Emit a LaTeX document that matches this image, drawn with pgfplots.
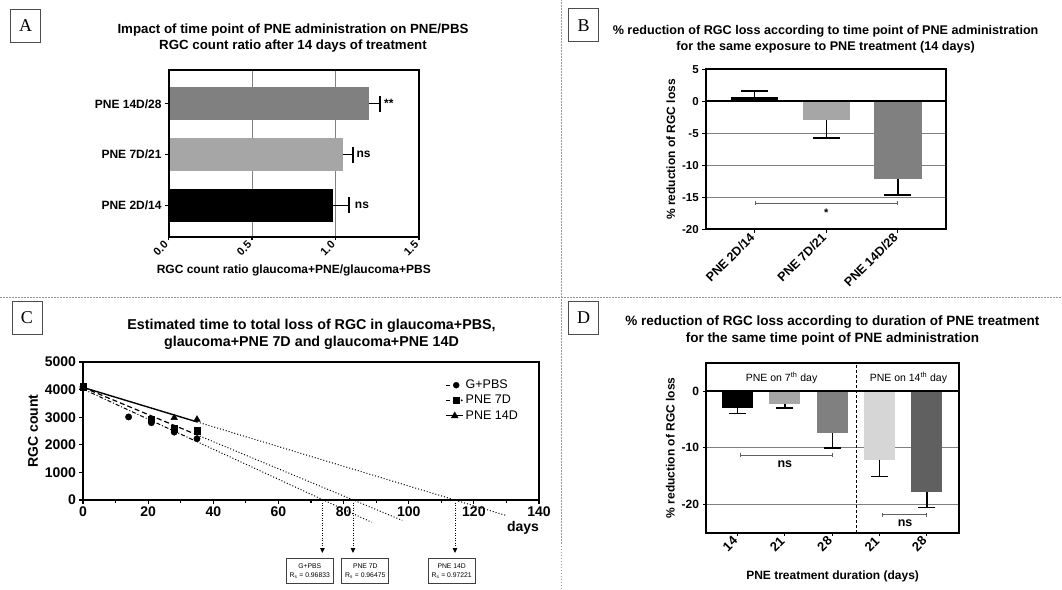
\documentclass[border=0pt]{standalone}
\usepackage{pgfplots}
\pgfplotsset{compat=1.18}
\usepackage{fontspec}
\setmainfont{Liberation Sans}
\newfontfamily\panelfont{Liberation Serif}
\usetikzlibrary{arrows.meta}
\definecolor{g50}{RGB}{128,128,128}
\definecolor{g65}{RGB}{166,166,166}
\definecolor{g85}{RGB}{214,214,214}
\definecolor{g38}{RGB}{96,96,96}
\definecolor{sepc}{RGB}{150,150,150}
\newcommand{\fs}[2]{\fontsize{#1}{#2}\selectfont}
\pgfplotsset{
  panel/.style={scale only axis, anchor=south west, clip=false, axis on top,
    axis line style={black, line width=2pt},
    major tick style={black, line width=1.2pt}, tick align=outside, major tick length=3.5pt,
    minor tick style={black, line width=1.2pt}, minor tick length=2.5pt,
    tick pos=left,
    /pgf/number format/assume math mode=true,
    tick label style={font=\fs{11.5}{13}\bfseries},
    label style={font=\fs{12}{14}\bfseries}},
  ebx/.style={/pgfplots/error bars/x dir=plus, /pgfplots/error bars/x explicit,
    /pgfplots/error bars/error mark=|,
    /pgfplots/error bars/error bar style={black,line width=1.3pt},
    /pgfplots/error bars/error mark options={black,line width=1.3pt,mark size=#1}},
  ebup/.style={/pgfplots/error bars/y dir=plus, /pgfplots/error bars/y explicit,
    /pgfplots/error bars/error mark=|,
    /pgfplots/error bars/error bar style={black,line width=1.3pt},
    /pgfplots/error bars/error mark options={black,line width=1.3pt,mark size=#1}},
  ebdn/.style={/pgfplots/error bars/y dir=minus, /pgfplots/error bars/y explicit,
    /pgfplots/error bars/error mark=|,
    /pgfplots/error bars/error bar style={black,line width=1.3pt},
    /pgfplots/error bars/error mark options={black,line width=1.3pt,mark size=#1}},
}
\begin{document}
\begin{tikzpicture}
\path[use as bounding box] (0pt,0pt) rectangle (1062pt,589pt);
% separators
\draw[sepc, line width=0.6pt, dash pattern=on 1.5pt off 1.5pt] (0pt,292pt) -- (1062pt,292pt);
\draw[sepc, line width=0.6pt, dash pattern=on 1.5pt off 1.5pt] (560.8pt,0pt) -- (560.8pt,589pt);
% panel letters
\foreach \l/\x/\y in {A/10.2/546.3, B/568.2/546.7, C/11.5/254, D/568.3/254}
  \node[draw=black!70, line width=0.8pt, minimum width=30pt, minimum height=33pt, anchor=south west, inner sep=0pt, font=\panelfont\fs{18}{18}] at (\x pt,\y pt) {\l};
% titles
\node[align=center, font=\fs{13.3}{16.5}\bfseries] at (293pt,551pt) {Impact of time point of PNE administration on PNE/PBS\\RGC count ratio after 14 days of treatment};
\node[align=center, font=\fs{12.6}{16}\bfseries] at (825.6pt,550pt) {\% reduction of RGC loss according to time point of PNE administration\\for the same exposure to PNE treatment (14 days)};
\node[align=center, font=\fs{14.3}{16.5}\bfseries] at (311.5pt,254.7pt) {Estimated time to total loss of RGC in glaucoma+PBS,\\glaucoma+PNE 7D and glaucoma+PNE 14D};
\node[align=center, font=\fs{13.5}{16.5}\bfseries] at (832.4pt,258.5pt) {\% reduction of RGC loss according to duration of PNE treatment\\for the same time point of PNE administration};

% ---------------- Panel A ----------------
\begin{axis}[panel, at={(168.6pt,352pt)}, width=250.4pt, height=166.6pt,
  xbar, bar width=33pt, bar shift=0pt,
  xmin=0, xmax=1.5, xtick={0,0.5,1,1.5}, xticklabels={0.0,0.5,1.0,1.5},
  xticklabel style={rotate=45, anchor=east, font=\fs{11}{12}\bfseries},
  ymin=-0.627, ymax=2.659, ytick={0,1,2}, yticklabels={PNE 2D/14,PNE 7D/21,PNE 14D/28},
  yticklabel style={font=\fs{12}{13}\bfseries},
  xlabel={RGC count ratio glaucoma+PNE/glaucoma+PBS}]
\draw[g50, line width=1pt] (axis cs:0.5,-0.627) -- (axis cs:0.5,2.659);
\draw[g50, line width=1pt] (axis cs:1,-0.627) -- (axis cs:1,2.659);
\addplot[fill=black, draw=none, ebx=8pt] coordinates {(0.986,0) +- (0.094,0)};
\addplot[fill=g65, draw=none, ebx=8pt] coordinates {(1.043,1) +- (0.062,0)};
\addplot[fill=g50, draw=none, ebx=8pt] coordinates {(1.20,2) +- (0.066,0)};
\node[anchor=west, inner sep=0pt, font=\fs{12}{13}\bfseries] at (axis cs:1.29,2) {**};
\node[anchor=west, inner sep=0pt, font=\fs{12}{13}\bfseries] at (axis cs:1.125,1) {ns};
\node[anchor=west, inner sep=0pt, font=\fs{12}{13}\bfseries] at (axis cs:1.115,0) {ns};
\end{axis}

% ---------------- Panel B ----------------
\begin{axis}[panel, at={(705.7pt,359.5pt)}, width=240.1pt, height=160.3pt,
  ybar, bar width=47.4pt, bar shift=0pt,
  xmin=-0.686, xmax=2.67, xtick={0,1,2}, xticklabels={PNE 2D/14,PNE 7D/21,PNE 14D/28},
  xticklabel style={rotate=45, anchor=east, font=\fs{12.5}{13}\bfseries},
  ymin=-20, ymax=5, ytick={-20,-15,-10,-5,0,5},
  ylabel={\% reduction of RGC loss}]
\draw[g50, line width=1pt] (axis cs:-0.686,-5) -- (axis cs:2.67,-5);
\draw[g50, line width=1pt] (axis cs:-0.686,-10) -- (axis cs:2.67,-10);
\draw[g50, line width=1pt] (axis cs:-0.686,-15) -- (axis cs:2.67,-15);
\addplot[fill=black, draw=none, ebup=13.5pt] coordinates {(0,0.6) +- (0,1.0)};
\addplot[fill=g65, draw=none, ebdn=13.5pt] coordinates {(1,-2.95) +- (0,2.8)};
\addplot[fill=g50, draw=none, ebdn=13.5pt] coordinates {(2,-12.2) +- (0,2.4)};
\draw[black, line width=2pt] (axis cs:-0.686,0) -- (axis cs:2.67,0);
\draw[g38, line width=0.8pt, {Bar[width=4pt]}-{Bar[width=4pt]}] (axis cs:0,-15.9) -- (axis cs:2,-15.9);
\node[font=\fs{11}{12}\bfseries] at (axis cs:1,-17.4) {*};
\end{axis}

% ---------------- Panel C ----------------
\begin{axis}[panel, at={(83pt,89pt)}, width=456pt, height=138pt,
  xmin=0, xmax=140, ymin=0, ymax=5000,
  xtick={0,20,...,140}, minor x tick num=1, ytick={0,1000,...,5000},
  /pgf/number format/1000 sep={},
  tick label style={font=\fs{14}{15}\bfseries},
  ylabel={RGC count}, ylabel style={font=\fs{14}{15}\bfseries},
  legend style={draw=none, fill=none, at={(0.795,0.885)}, anchor=north west,
    font=\fs{12.5}{13}, row sep=1pt, inner sep=0pt, cells={anchor=west}}]
% fit lines
\addplot[black, line width=1pt, dash pattern=on 4pt off 2pt on 1pt off 2pt, forget plot] coordinates {(0,4020) (35,2113)};
\addplot[black, line width=1pt, dash pattern=on 1pt off 2pt, forget plot] coordinates {(35,2113) (88.6,-806)};
\addplot[black, line width=1.2pt, dash pattern=on 5pt off 3pt, forget plot] coordinates {(0,4080) (35,2360)};
\addplot[black, line width=1pt, dash pattern=on 1pt off 2pt, forget plot] coordinates {(35,2360) (98,-738)};
\addplot[black, line width=1.4pt, forget plot] coordinates {(0,4080) (35,2830)};
\addplot[black, line width=1pt, dash pattern=on 1pt off 2pt, forget plot] coordinates {(35,2830) (129.6,-551)};
% data
\addplot[only marks, mark=*, mark size=3.2pt, black,
  legend image code/.code={\draw[black,line width=1pt] (0pt,0pt) -- (4pt,0pt); \fill[black] (10pt,0pt) circle (3pt);}]
  coordinates {(0,4100) (14,3010) (21,2800) (28,2460) (35,2220)};
\addlegendentry{G+PBS}
\addplot[only marks, mark=square*, mark size=3.2pt, black,
  legend image code/.code={\draw[black,line width=1pt] (0pt,0pt) -- (4pt,0pt); \fill[black] (7pt,-3pt) rectangle (13pt,3pt); \fill[black] (15.5pt,0pt) circle (0.7pt);}]
  coordinates {(0,4100) (21,2920) (28,2580) (35,2510)};
\addlegendentry{PNE 7D}
\addplot[only marks, mark=triangle*, mark size=3.8pt, black,
  legend image code/.code={\draw[black,line width=1pt] (0pt,0pt) -- (17pt,0pt); \fill[black] (8.5pt,3.5pt) -- (5pt,-2.5pt) -- (12pt,-2.5pt) -- cycle;}]
  coordinates {(0,4100) (28,2980) (35,2920)};
\addlegendentry{PNE 14D}
% arrows to boxes
\draw[black, line width=0.9pt, dash pattern=on 1pt off 1.5pt, -{Triangle[length=5pt,width=4.5pt]}] (axis cs:73.5,0) -- ++(0pt,-53pt);
\draw[black, line width=0.9pt, dash pattern=on 1pt off 1.5pt, -{Triangle[length=5pt,width=4.5pt]}] (axis cs:82.9,0) -- ++(0pt,-53pt);
\draw[black, line width=0.9pt, dash pattern=on 1pt off 1.5pt, -{Triangle[length=5pt,width=4.5pt]}] (axis cs:114.2,0) -- ++(0pt,-53pt);
\end{axis}
\node[font=\fs{14}{15}\bfseries] at (523pt,61pt) {days};
\foreach \cx/\t/\r in {309.8/G+PBS/0.96833, 365.3/PNE 7D/0.96475, 451.7/PNE 14D/0.97221}
  \node[draw=black!75, line width=0.8pt, minimum width=47pt, minimum height=24.7pt, inner sep=1pt, align=center, font=\fs{6.8}{8.5}] at (\cx pt,18pt) {\t\\R\textsubscript{s} = \r};

% ---------------- Panel D ----------------
\begin{axis}[panel, at={(706pt,56.3pt)}, width=253.3pt, height=169.9pt,
  ybar, bar width=31pt, bar shift=0pt,
  xmin=-0.667, xmax=4.686, xtick={0,1,2,3,4}, xticklabels={14,21,28,21,28},
  xticklabel style={rotate=45, anchor=east, font=\fs{13}{14}\bfseries},
  ymin=-25, ymax=5, ytick={-20,-10,0},
  yticklabel style={font=\fs{12}{13}\bfseries},
  xlabel={PNE treatment duration (days)}, xlabel style={yshift=-10pt},
  ylabel={\% reduction of RGC loss}]
\draw[g50, line width=1pt] (axis cs:-0.667,-10) -- (axis cs:4.686,-10);
\draw[g50, line width=1pt] (axis cs:-0.667,-20) -- (axis cs:4.686,-20);
\addplot[fill=black, draw=none, ebdn=8.5pt] coordinates {(0,-3.0) +- (0,1.0)};
\addplot[fill=g65, draw=none, ebdn=8.5pt] coordinates {(1,-2.2) +- (0,0.8)};
\addplot[fill=g50, draw=none, ebdn=8.5pt] coordinates {(2,-7.45) +- (0,2.6)};
\addplot[fill=g85, draw=none, ebdn=8.5pt] coordinates {(3,-12.1) +- (0,2.95)};
\addplot[fill=g38, draw=none, ebdn=8.5pt] coordinates {(4,-17.8) +- (0,2.7)};
\draw[black, line width=2pt] (axis cs:-0.667,0) -- (axis cs:4.686,0);
\draw[black, line width=1pt, dash pattern=on 3pt off 2pt] (axis cs:2.515,-25) -- (axis cs:2.515,5);
\node[font=\fs{10.5}{12}] at (axis cs:0.93,2.3) {PNE on 7\textsuperscript{th} day};
\node[font=\fs{10.5}{12}] at (axis cs:3.61,2.3) {PNE on 14\textsuperscript{th} day};
\draw[g38, line width=0.8pt, {Bar[width=4pt]}-{Bar[width=4pt]}] (axis cs:0.05,-11.3) -- (axis cs:2.02,-11.3);
\node[font=\fs{12.5}{13}\bfseries] at (axis cs:1.0,-12.9) {ns};
\draw[g38, line width=0.8pt, {Bar[width=4pt]}-{Bar[width=4pt]}] (axis cs:3.05,-21.85) -- (axis cs:4.0,-21.85);
\node[font=\fs{12.5}{13}\bfseries] at (axis cs:3.54,-23.4) {ns};
\end{axis}
\end{tikzpicture}
\end{document}
